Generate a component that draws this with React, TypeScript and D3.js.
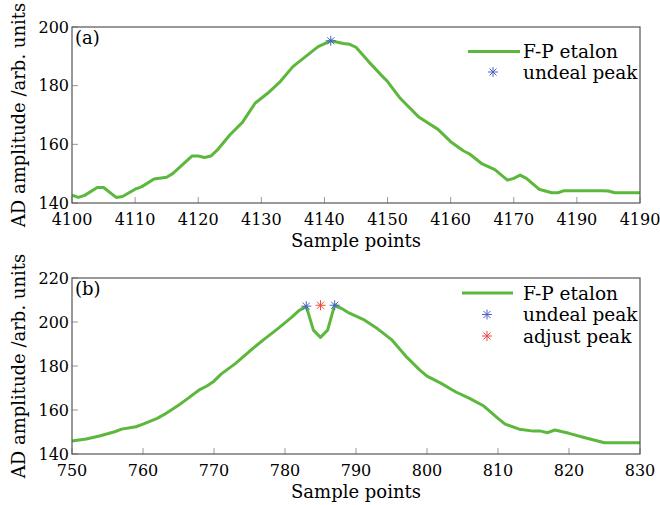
import React from "react";
import * as d3 from "d3";

// panel (a) data
const xA = [4100, 4101, 4102, 4104, 4105, 4107, 4108, 4110, 4111, 4113, 4115, 4116, 4118, 4119, 4120, 4121, 4122, 4123, 4125, 4127, 4129, 4131, 4133, 4135, 4137, 4139, 4141, 4143, 4144, 4145, 4147, 4149, 4150, 4152, 4155, 4158, 4160, 4162, 4163, 4165, 4167, 4169, 4170, 4171, 4172, 4174, 4176, 4177, 4178, 4180, 4182, 4184, 4185, 4186, 4188, 4190];
const yA = [142.7, 141.9, 142.6, 145.3, 145.3, 141.9, 142.2, 144.7, 145.5, 148.2, 148.8, 150.1, 154, 156, 156, 155.5, 156, 158, 163.2, 167.5, 174, 177.4, 181.4, 186.5, 189.9, 193.3, 195.3, 194.4, 194.1, 193.1, 188.2, 183.6, 181.4, 175.7, 169.2, 165.1, 160.9, 157.8, 156.7, 153.3, 151.4, 147.8, 148.4, 149.5, 148.4, 144.7, 143.5, 143.5, 144.2, 144.2, 144.2, 144.2, 144.1, 143.5, 143.5, 143.5];
const xTicksA = [4100, 4110, 4120, 4130, 4140, 4150, 4160, 4170, 4180, 4190];
const xTickLabelsA = ["4100", "4110", "4120", "4130", "4140", "4150", "4160", "4170", "4190", "4190"];
const undealA = [{ x: 4141, y: 195.3 }];

// panel (b) data
const xB = [750, 752, 754, 756, 757, 759, 760, 762, 763, 765, 766, 768, 769, 770, 771, 773, 775, 777, 779, 781, 782, 783, 784, 785, 786, 787, 788, 789, 791, 793, 795, 797, 799, 800, 802, 804, 806, 808, 810, 811, 813, 815, 816, 817, 818, 820, 822, 825, 828, 830];
const yB = [145.9, 146.8, 148.3, 150.1, 151.3, 152.4, 153.6, 156.2, 158, 162.2, 164.5, 169.3, 170.9, 173.1, 176.3, 181.1, 186.7, 192, 197, 202.3, 205.3, 207.1, 196.3, 193, 196.3, 207.8, 206.1, 204.1, 201.2, 197, 192, 184.5, 178.1, 175.4, 172.1, 168.3, 165.3, 161.8, 156.2, 153.6, 151.3, 150.4, 150.4, 149.7, 150.9, 149.4, 147.6, 145.1, 145.1, 145.1];
const xTicksB = [750, 760, 770, 780, 790, 800, 810, 820, 830];
const undealB = [{ x: 783, y: 207.2 }, { x: 787, y: 207.6 }];
const adjustB = [{ x: 785, y: 207.6 }];

const green = "#5cb83c";
const blue = "#4a63c8";
const red = "#ee4a3a";
const font = "'DejaVu Serif', serif";
const fs = 18;
const tickFs = 16;

const Star = ({ x, y, color, r = 5 }) => (
    <g stroke={color} strokeWidth={1}>
        <line x1={x - r} y1={y} x2={x + r} y2={y} />
        <line x1={x} y1={y - r} x2={x} y2={y + r} />
        <line x1={x - r * 0.7} y1={y - r * 0.7} x2={x + r * 0.7} y2={y + r * 0.7} />
        <line x1={x - r * 0.7} y1={y + r * 0.7} x2={x + r * 0.7} y2={y - r * 0.7} />
    </g>
);

const Panel = ({ top, xs, ys, xDomain, yDomain, xTicks, xLabels, yTicks, tag, undeal, adjust }) => {
    const left = 72, right = 640, bottom = top + 176;
    const x = d3.scaleLinear().domain(xDomain).range([left, right]);
    const y = d3.scaleLinear().domain(yDomain).range([bottom, top]);
    const line = d3.line().x(d => x(d[0])).y(d => y(d[1]));
    const pts = xs.map((v, i) => [v, ys[i]]);
    const legendRows = adjust ? 3 : 2;
    return (
        <g>
            {xTicks.map(t => (
                <line key={"xt" + t} x1={x(t)} x2={x(t)} y1={bottom} y2={bottom - 6} stroke="#999" />
            ))}
            {yTicks.map(t => (
                <line key={"yt" + t} x1={left} x2={left + 6} y1={y(t)} y2={y(t)} stroke="#999" />
            ))}
            <path d={line(pts)} fill="none" stroke={green} strokeWidth={3} strokeLinejoin="round" />
            {undeal.map((p, i) => <Star key={"u" + i} x={x(p.x)} y={y(p.y)} color={blue} />)}
            {adjust && adjust.map((p, i) => <Star key={"a" + i} x={x(p.x)} y={y(p.y)} color={red} />)}
            <rect x={left} y={top} width={right - left} height={bottom - top} fill="none" stroke="#555" strokeWidth={1.2} />
            {xTicks.map((t, i) => (
                <text key={"xl" + t} x={x(t)} y={bottom + 21.5} textAnchor="middle" fontSize={tickFs} fontFamily={font}>
                    {xLabels ? xLabels[i] : t}
                </text>
            ))}
            {yTicks.map(t => (
                <text key={"yl" + t} x={left - 3} y={y(t) + 5.5} textAnchor="end" fontSize={tickFs} fontFamily={font}>{t}</text>
            ))}
            <text x={(left + right) / 2} y={bottom + 43.5} textAnchor="middle" fontSize={fs} fontFamily={font}>Sample points</text>
            <text transform={`translate(25 ${(top + bottom) / 2}) rotate(-90)`} textAnchor="middle" fontSize={fs} fontFamily={font}>
                AD amplitude /arb. units
            </text>
            <text x={left + 3} y={top + 17} fontSize={fs} fontFamily={font}>{tag}</text>
            <g fontSize={18.5} fontFamily={font}>
                <line x1={adjust ? 462 : 468} x2={adjust ? 513 : 520} y1={top + (adjust ? 15 : 24.5)} y2={top + (adjust ? 15 : 24.5)} stroke={green} strokeWidth={3} />
                <text x={523} y={top + (adjust ? 21.5 : 31)}>F-P etalon</text>
                <Star x={adjust ? 487 : 493} y={top + (adjust ? 36.5 : 45)} color={blue} />
                <text x={523} y={top + (adjust ? 43 : 51.5)}>undeal peak</text>
                {legendRows === 3 && <Star x={487} y={top + 58} color={red} />}
                {legendRows === 3 && <text x={523} y={top + 64.5}>adjust peak</text>}
            </g>
        </g>
    );
};

export default function App() {
    return (
        <svg width={660} height={505} style={{ position: "absolute", left: 0, top: 0 }}>
            <rect width={660} height={505} fill="#fff" />
            <Panel top={27} xs={xA} ys={yA} xDomain={[4100, 4190]} yDomain={[140, 200]}
                xTicks={xTicksA} xLabels={xTickLabelsA} yTicks={[140, 160, 180, 200]} tag="(a)" undeal={undealA} />
            <Panel top={278} xs={xB} ys={yB} xDomain={[750, 830]} yDomain={[140, 220]}
                xTicks={xTicksB} yTicks={[140, 160, 180, 200, 220]} tag="(b)" undeal={undealB} adjust={adjustB} />
        </svg>
    );
}
